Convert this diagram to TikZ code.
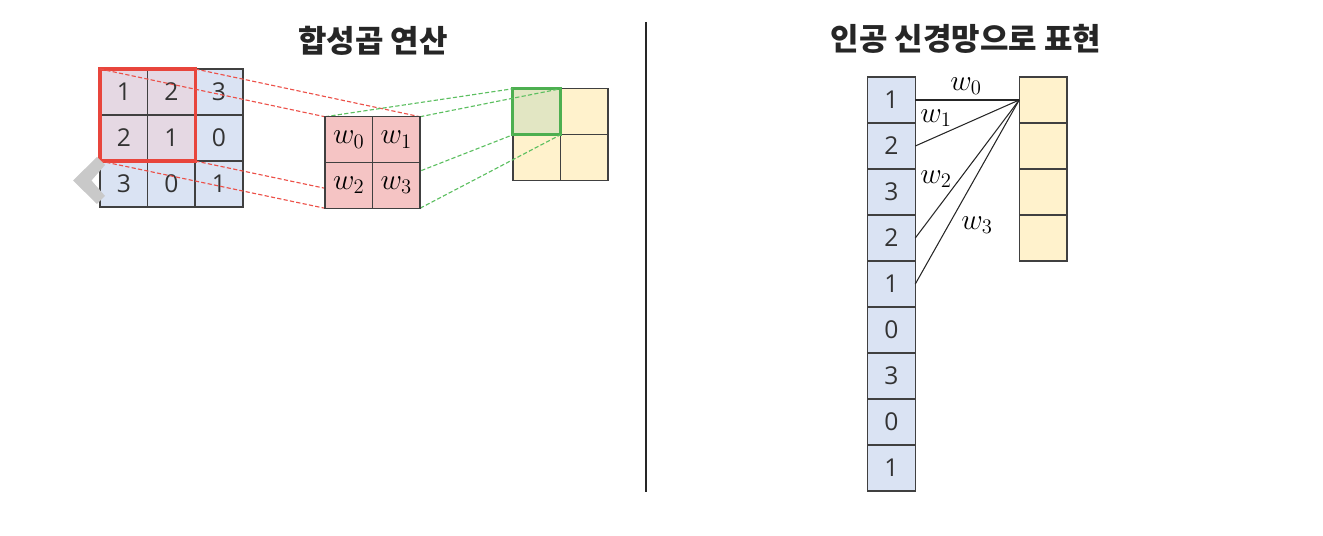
\RequirePackage{fix-cm}
\documentclass[tikz,border=0pt]{standalone}
\usepackage{fontspec}
\newfontfamily\krfont{Noto Sans CJK KR}
\newfontfamily\numfont{Open Sans}
\definecolor{inblue}{HTML}{DAE3F3}
\definecolor{inpink}{HTML}{E5D8E3}
\definecolor{kernred}{HTML}{F5C4C4}
\definecolor{outyellow}{HTML}{FFF2CC}
\definecolor{greenfill}{HTML}{E2E6C3}
\definecolor{boxred}{HTML}{E8453C}
\definecolor{boxgreen}{HTML}{4DAF50}
\definecolor{dashred}{HTML}{EC5149}
\definecolor{dashgreen}{HTML}{5CBF60}
\definecolor{bordergray}{HTML}{404040}
\definecolor{chevgray}{HTML}{C9C9C9}
\tikzset{
  cell/.style={draw=bordergray, line width=1pt, minimum width=1.19cm, minimum height=1.15cm,
    inner sep=0pt, outer sep=0pt, text=black!80, font=\numfont\fontsize{17.5}{20}\selectfont},
  wcell/.style={cell, fill=kernred, text=black, font=\fontsize{21}{24}\selectfont},
  ttl/.style={font=\krfont\bfseries\fontsize{22}{26}\selectfont, text=black!85},
  proj/.style={dash pattern=on 3pt off 1.6pt, line width=.8pt},
  wire/.style={line width=.75pt, black!85},
  wlabel/.style={font=\fontsize{21}{24}\selectfont, inner sep=0pt},
}
\pgfdeclarelayer{bg}
\pgfdeclarelayer{mid}
\pgfsetlayers{bg,mid,main}
\begin{document}
\begin{tikzpicture}[x=0.025cm, y=-0.025cm]
\useasboundingbox (0,0) rectangle (1323,536);
% titles and separator
\node[ttl] (t1) at (373,41) {합성곱 연산};
\node[ttl] (t2) at (966,39) {인공 신경망으로 표현};
\draw[line width=.9pt, black!85] (646,22) -- (646,492);

% input grid and output grid
\begin{pgfonlayer}{bg}
\foreach \r/\c/\v/\f in {1/1/1/inpink,1/2/2/inpink,1/3/3/inblue,2/1/2/inpink,2/2/1/inpink,
    2/3/0/inblue,3/1/3/inblue,3/2/0/inblue,3/3/1/inblue}
  \node[cell, fill=\f] (g\r\c) at ({100+47.6*(\c-.5)}, {69+46*(\r-.5)}) {\v};
\draw[boxred, line width=2.2pt] (g11.north west) rectangle (g22.south east);
\foreach \r in {1,2} \foreach \c in {1,2}
  \node[cell, fill=outyellow] (o\r\c) at ({513+47.5*(\c-.5)}, {89+45.5*(\r-.5)}) {};
\draw[boxgreen, line width=2.2pt, fill=greenfill] (o11.north west) rectangle (o11.south east);
\end{pgfonlayer}

% kernel
\foreach \r/\c/\n in {1/1/0,1/2/1,2/1/2,2/2/3}
  \node[wcell] (k\r\c) at ({325+47.5*(\c-.5)}, {117+45.5*(\r-.5)}) {$w_{\n}$};

% projection lines
\begin{pgfonlayer}{mid}
\draw[proj, dashred] (g11.north west) -- (k11.north west);
\draw[proj, dashred] (g12.north east) -- (k12.north east);
\draw[proj, dashred] (g21.south west) -- (k21.south west);
\draw[proj, dashred] (g22.south east) -- (k22.south east);
\draw[proj, dashgreen] (k11.north west) -- (o11.north west);
\draw[proj, dashgreen] (k12.north east) -- (o11.north east);
\draw[proj, dashgreen] (k21.south west) -- (o11.south west);
\draw[proj, dashgreen] (k22.south east) -- (o11.south east);
\end{pgfonlayer}

\fill[chevgray] (97,157) -- (73,180.5) -- (97,204) -- (105,196) -- (91.5,180.5) -- (105,165) -- cycle;

% flattened input and output
\foreach \v [count=\i] in {1,2,3,2,1,0,3,0,1}
  \node[cell, fill=inblue] (r\i) at (891.5, {77+46*(\i-.5)}) {\v};
\foreach \i in {1,...,4}
  \node[cell, fill=outyellow] (y\i) at (1043, {77+46*(\i-.5)}) {};
\foreach \i in {1,2,4,5}
  \draw[wire] (r\i.east) -- (y1.west);
\node[wlabel] (l0) at (966,86) {$w_0$};
\node[wlabel] (l1) at (936,118) {$w_1$};
\node[wlabel] (l2) at (936,179) {$w_2$};
\node[wlabel] (l3) at (977,225) {$w_3$};
\end{tikzpicture}
\end{document}
